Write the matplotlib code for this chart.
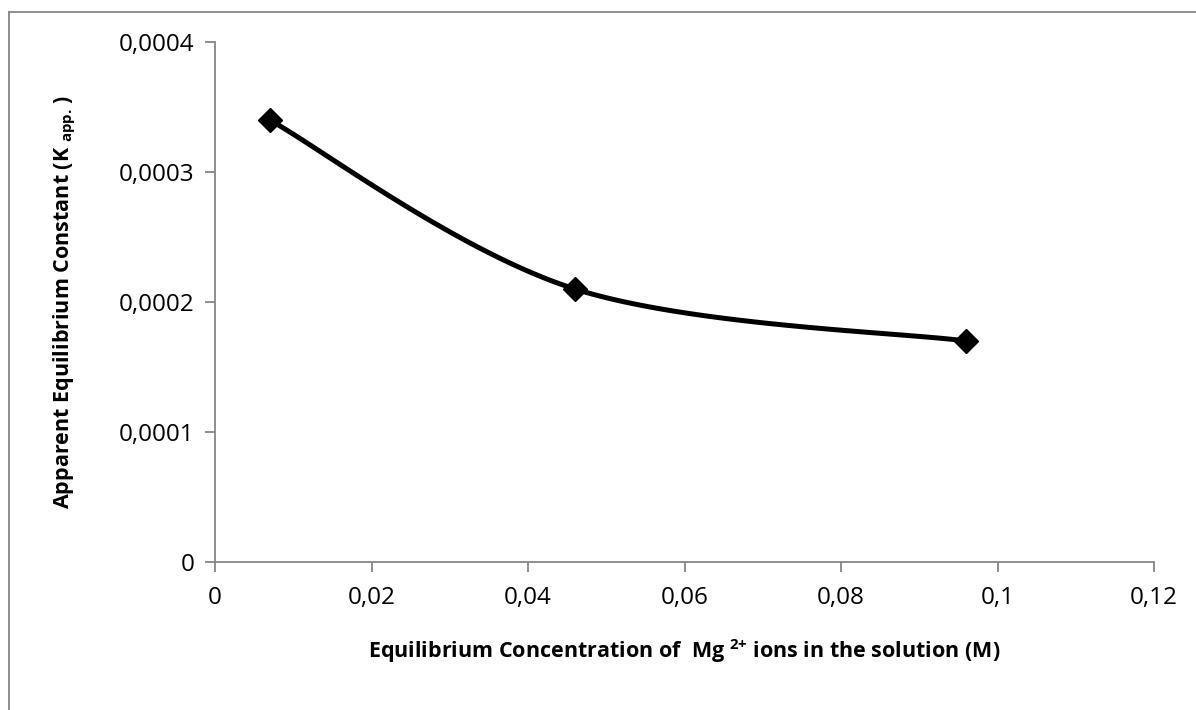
import numpy as np
import matplotlib
matplotlib.use("Agg")
from matplotlib import pyplot as plt
from matplotlib.lines import Line2D

# data
conc = [0.007, 0.046, 0.096]
k_app = [0.00034, 0.00021, 0.00017]
x_ticks = [0, 0.02, 0.04, 0.06, 0.08, 0.1, 0.12]
x_labels = ["0", "0,02", "0,04", "0,06", "0,08", "0,1", "0,12"]
y_ticks = [0, 0.0001, 0.0002, 0.0003, 0.0004]
y_labels = ["0", "0,0001", "0,0002", "0,0003", "0,0004"]

plt.rcParams['font.family'] = ['Open Sans', 'DejaVu Sans']
plt.rcParams['mathtext.fontset'] = 'custom'
plt.rcParams['mathtext.rm'] = 'Open Sans:bold'
plt.rcParams['mathtext.bf'] = 'Open Sans:bold'

xmax, ymax = 0.12, 0.0004


def smooth(xs, ys, n=60):
    # Excel-like smoothed line (Catmull-Rom bezier), in axis-scaled space
    p = np.column_stack([np.array(xs) / xmax, np.array(ys) / ymax * 0.55])
    pts = np.vstack([p[0], p, p[-1]])
    out = []
    t = np.linspace(0, 1, n)[:, None]
    for i in range(1, len(pts) - 2):
        p0, p1, p2, p3 = pts[i - 1], pts[i], pts[i + 1], pts[i + 2]
        c1 = p1 + (p2 - p0) / 6
        c2 = p2 - (p3 - p1) / 6
        seg = ((1 - t) ** 3 * p1 + 3 * (1 - t) ** 2 * t * c1
               + 3 * (1 - t) * t ** 2 * c2 + t ** 3 * p2)
        out.append(seg)
    c = np.vstack(out)
    return c[:, 0] * xmax, c[:, 1] / 0.55 * ymax


fig = plt.figure(figsize=(11.96, 7.10), dpi=100)
ax = fig.add_axes([215 / 1196, 1 - 562 / 710, (1154 - 215) / 1196, (562 - 42) / 710])

sx, sy = smooth(conc, k_app)
ax.plot(sx, sy, color='black', lw=3.6, solid_capstyle='round')
ax.plot(conc, k_app, 'D', color='black', ms=12)

ax.set_xlim(0, xmax)
ax.set_ylim(0, ymax)
ax.set_xticks(x_ticks)
ax.set_xticklabels(x_labels)
ax.set_yticks(y_ticks)
ax.set_yticklabels(y_labels)
ax.tick_params(labelsize=17.5, direction='out', length=7, width=1.3,
               color='#868686', pad=8)
ax.tick_params(axis='x', pad=10)
for s in ['top', 'right']:
    ax.spines[s].set_visible(False)
for s in ['left', 'bottom']:
    ax.spines[s].set_color('#868686')
    ax.spines[s].set_linewidth(1.3)

ax.set_xlabel(r"Equilibrium Concentration of  Mg $^{\text{2+}}$ ions in the solution (M)",
              fontsize=15.5, fontweight='bold', labelpad=20)
ax.set_ylabel(r"Apparent Equilibrium Constant (K $_{\text{app.}}$ )",
              fontsize=15.5, fontweight='bold', labelpad=29)

# chart area border (only left and top visible in the crop)
fig.add_artist(Line2D([9 / 1196, 9 / 1196], [0, 1 - 12 / 710],
                      transform=fig.transFigure, color='#868686', lw=1.3))
fig.add_artist(Line2D([9 / 1196, 1], [1 - 12 / 710, 1 - 12 / 710],
                      transform=fig.transFigure, color='#868686', lw=1.3))

plt.savefig('out.png', dpi=100)
